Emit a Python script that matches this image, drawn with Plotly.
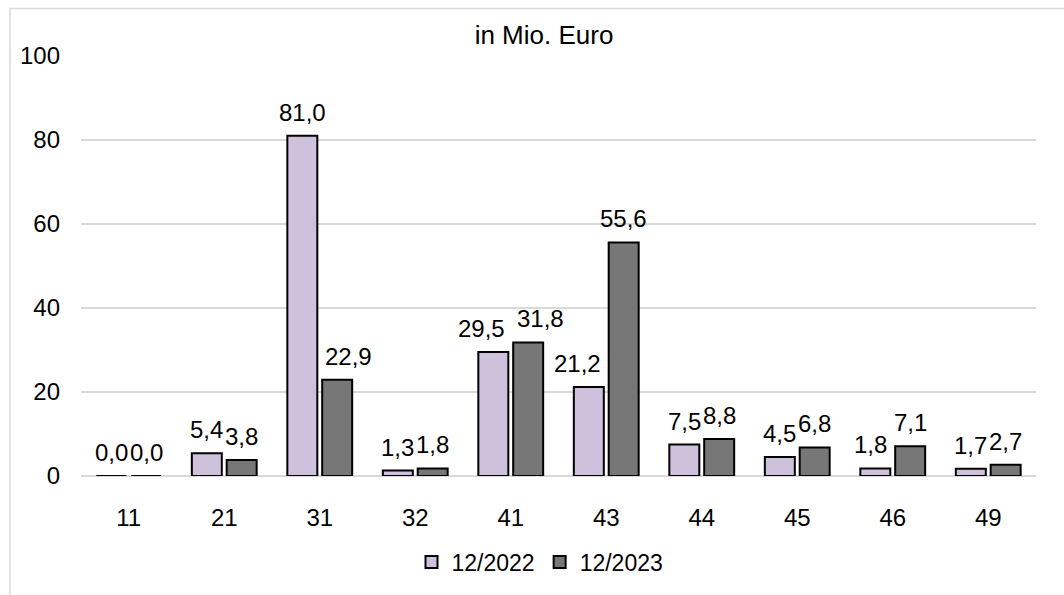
import plotly.graph_objects as go

categories = ["11", "21", "31", "32", "41", "43", "44", "45", "46", "49"]
values_2022 = [0.0, 5.4, 81.0, 1.3, 29.5, 21.2, 7.5, 4.5, 1.8, 1.7]
values_2023 = [0.0, 3.8, 22.9, 1.8, 31.8, 55.6, 8.8, 6.8, 7.1, 2.7]
series_names = ["12/2022", "12/2023"]
y_ticks = [0, 20, 40, 60, 80, 100]

FONT = "Liberation Sans, Arial, sans-serif"
FS = 24
COLORS = ["#CDC1DB", "#777777"]

# layout geometry (pixels)
ML, MR, MT, MB = 81, 28, 56, 115
W, H = 1064, 595
PLOT_W = W - ML - MR
PLOT_H = H - MT - MB
BARGAP, GROUPGAP = 0.27, 0.14

fig = go.Figure()
for name, vals, color in zip(series_names, [values_2022, values_2023], COLORS):
    fig.add_trace(go.Bar(
        x=categories, y=vals, name=name,
        marker=dict(color=color, line=dict(color="#000000", width=2)),
    ))

# data labels placed above each bar, nudged apart like the reference
ppu = PLOT_H / 100.0
cat_w = PLOT_W / len(categories)
slot = (1 - BARGAP) * cat_w / 2
bar_w = slot * (1 - GROUPGAP)
centers = [-slot / 2, slot / 2]
LABEL_UP = 23.5


def fmt(v):
    return f"{v:.1f}".replace(".", ",")


def text_w(s):
    return sum(0.278 if ch == "," else 0.556 for ch in s) * FS


annotations = []
for i, cat in enumerate(categories):
    vals = [values_2022[i], values_2023[i]]
    texts = [fmt(v) for v in vals]
    widths = [text_w(t) for t in texts]
    heights = [v * ppu + LABEL_UP for v in vals]
    shifts = [0.0, 0.0]
    # avoid collisions with the neighbouring (taller) bar
    for k in range(2):
        j = 1 - k
        if vals[j] * ppu > heights[k] - FS * 0.42:
            if k == 0:
                limit = centers[1] - bar_w / 2 - 8
                right = centers[0] + widths[0] / 2
                shifts[0] = min(0.0, limit - right)
            else:
                limit = centers[0] + bar_w / 2 + 8
                left = centers[1] - widths[1] / 2
                shifts[1] = max(0.0, limit - left)
    # avoid overlap between the two labels of a group
    if abs(heights[0] - heights[1]) < FS * 0.85:
        need = (widths[0] + widths[1]) / 2
        have = (centers[1] + shifts[1]) - (centers[0] + shifts[0])
        if have < need:
            extra = (need + 12 - have) / 2
            shifts[0] -= extra
            shifts[1] += extra
    for k in range(2):
        annotations.append(dict(
            x=i, y=vals[k], xref="x", yref="y", text=texts[k], showarrow=False,
            xanchor="center", yanchor="middle",
            xshift=centers[k] + shifts[k], yshift=LABEL_UP,
            font=dict(family=FONT, size=FS, color="#000000"),
        ))

fig.update_layout(
    width=W, height=H,
    margin=dict(l=ML, r=MR, t=MT, b=MB),
    paper_bgcolor="white", plot_bgcolor="white",
    separators=",.",
    barmode="group", bargap=BARGAP, bargroupgap=GROUPGAP,
    font=dict(family=FONT, size=FS, color="#000000"),
    title=dict(text="in Mio. Euro", x=544 / W, xanchor="center", y=1 - 35 / H,
               yanchor="middle", font=dict(family=FONT, size=26, color="#000000")),
    legend=dict(orientation="h", x=(540 - ML) / PLOT_W, xanchor="center",
                y=-0.205, yanchor="middle",
                font=dict(family=FONT, size=23, color="#000000"),
                itemwidth=30, traceorder="normal"),
    xaxis=dict(type="category", range=[-0.5, len(categories) - 0.5],
               showgrid=False, showline=False, zeroline=False,
               ticks="", ticklabelstandoff=25,
               tickfont=dict(family=FONT, size=FS, color="#000000")),
    yaxis=dict(range=[0, 100], tickvals=y_ticks, showgrid=True, gridcolor="#D9D9D9",
               gridwidth=1.5, zeroline=True, zerolinecolor="#D9D9D9", zerolinewidth=1.5,
               showline=False, ticks="", ticklabelstandoff=20,
               tickfont=dict(family=FONT, size=FS, color="#000000")),
    annotations=annotations,
    shapes=[dict(type="rect", xref="paper", yref="paper",
                 x0=(10 - ML) / PLOT_W, x1=1.2, y0=-0.5, y1=1 + (MT - 8) / PLOT_H,
                 line=dict(color="#D9D9D9", width=1.5), layer="below")],
)

fig.write_html("out.html")
